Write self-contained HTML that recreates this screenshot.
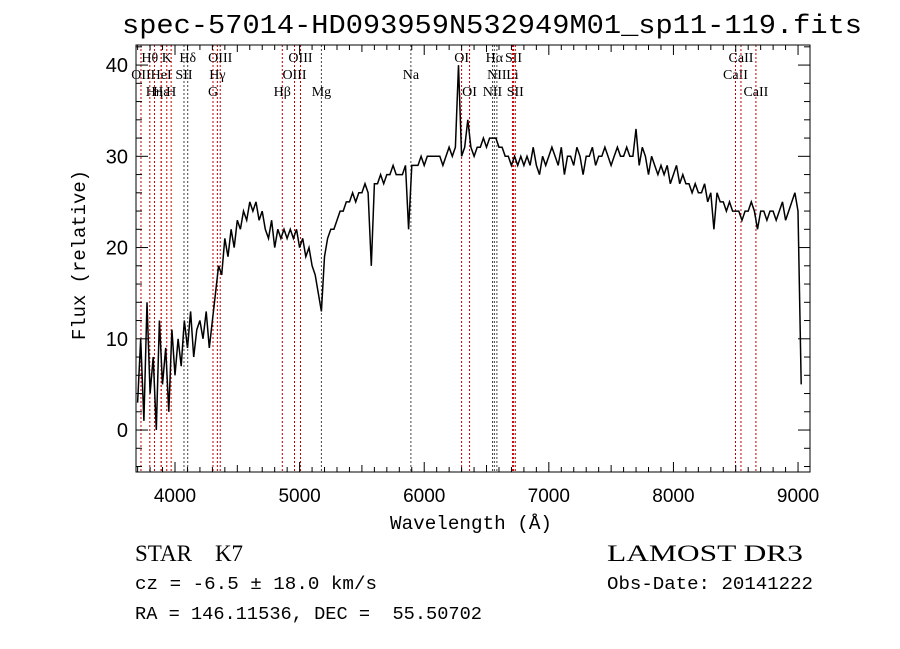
<!DOCTYPE html>
<html><head><meta charset="utf-8"><style>
body{margin:0;background:#fff;}
svg{display:block;}
</style></head><body>
<svg id="chart" width="900" height="649" viewBox="0 0 900 649" xmlns="http://www.w3.org/2000/svg">
<rect width="900" height="649" fill="#fff"/>
<text x="122" y="33" font-family="Liberation Mono, monospace" font-size="27" textLength="740" lengthAdjust="spacingAndGlyphs">spec-57014-HD093959N532949M01_sp11-119.fits</text>
<g id="lines"></g>
<g id="spec"></g>
<g id="axes"></g>
<text x="390" y="529" font-family="Liberation Mono, monospace" font-size="19" textLength="162" lengthAdjust="spacingAndGlyphs">Wavelength (Å)</text>
<text transform="translate(85,340) rotate(-90)" font-family="Liberation Mono, monospace" font-size="19" textLength="170" lengthAdjust="spacingAndGlyphs">Flux (relative)</text>
<text x="135" y="561" font-family="Liberation Serif, serif" font-size="23" xml:space="preserve">STAR    K7</text>
<text x="607" y="561" font-family="Liberation Serif, serif" font-size="23" textLength="196" lengthAdjust="spacingAndGlyphs">LAMOST DR3</text>
<text x="135" y="589" font-family="Liberation Mono, monospace" font-size="18" textLength="242" lengthAdjust="spacingAndGlyphs">cz = -6.5 ± 18.0 km/s</text>
<text x="607" y="589" font-family="Liberation Mono, monospace" font-size="18" textLength="206" lengthAdjust="spacingAndGlyphs">Obs-Date: 20141222</text>
<text x="135" y="619" font-family="Liberation Mono, monospace" font-size="18" xml:space="preserve" textLength="347" lengthAdjust="spacingAndGlyphs">RA = 146.11536, DEC =  55.50702</text>
</svg>
<script>
const wlStart = 3700;
const wlStep = 25;
const flux = [3,10,1,14,4,8,0,12,5,9,2,11,6,
10,7,12,9,13,8,11,12,10,13,9,12,
15,18,17,21,19,22,20,23,22,24,23,25,
24,25,23,24,22,21,23,20,22,21,22,21,
22,21,22,20,21,19,20,18,17,15,13,19,
21,22,22,23,24,24,25,25,26,25,26,26,
27,26,18,27,27,28,27,28,28,29,28,28,
28,29,22,29,29,29,30,29,30,30,30,30,
30,29,30,31,30,31,40,30,31,34,31,30,
31,31,32,31,32,32,32,31,31,30,30,29,
30,29,30,29,30,29,31,29,28,30,29,30,
31,30,29,31,28,30,30,29,31,30,28,30,
30,31,29,30,30,31,30,29,30,31,30,30,
31,30,30,33,29,31,30,28,30,29,28,29,
28,29,27,28,29,27,28,27,27,26,27,26,
26,27,25,26,22,26,25,25,24,25,24,24,
24,23,24,24,25,24,22,24,24,23,24,24,
23,24,25,23,24,25,26,24,5];
const xTicks = [4000,5000,6000,7000,8000,9000];
const yTicks = [0,10,20,30,40];
const lineNames = ["OII","Hθ","Hη","HeI","Hε","K","H","SII","Hδ","G","Hγ","OIII","Hβ","OIII","OIII","Mg","Na","OI","OI","NII","Hα","NII","Li","SII","SII","CaII","CaII","CaII"];
const lineWl = [3727,3798,3835,3889,3889,3934,3969,4072,4102,4305,4340,4363,4861,4959,5007,5175,5893,6300,6364,6548,6563,6583,6708,6717,6731,8498,8542,8662];
const lineRow = [1,0,2,1,2,0,2,1,0,2,1,0,2,1,0,2,1,0,2,2,0,1,1,0,2,1,0,2];
const lineBlack = [0,0,0,0,0,0,0,1,1,0,0,0,0,0,0,1,1,0,0,1,1,1,0,0,0,0,0,0];

const L=136,R=810,T=45,B=472;
const X0=3687,X1=9096,Y0=-4.6,Y1=42.2;
const xs=w=>L+(w-X0)/(X1-X0)*(R-L);
const ys=f=>B-(f-Y0)/(Y1-Y0)*(B-T);
const NS="http://www.w3.org/2000/svg";
function mk(tag,attrs,parent){const e=document.createElementNS(NS,tag);for(const k in attrs)e.setAttribute(k,attrs[k]);parent.appendChild(e);return e;}

const gl=document.getElementById('lines');
const rowY=[62,79,96];
lineWl.forEach((w,i)=>{
  const x=xs(w);
  const ln=mk('line',{x1:x,x2:x,y1:T,y2:B,stroke:lineBlack[i]?'#444':'#c00000','stroke-width':1,'stroke-dasharray':'2,2'},gl);
  
  
  const t=mk('text',{x:x,y:rowY[lineRow[i]],'font-family':'Liberation Serif, serif','font-size':14,'text-anchor':'middle'},gl);
  t.textContent=lineNames[i];
  
  
});

const gs=document.getElementById('spec');
const pts=flux.map((f,i)=>xs(wlStart+i*wlStep).toFixed(1)+','+ys(f).toFixed(1)).join(' ');
const pl=mk('polyline',{points:pts,fill:'none',stroke:'#000','stroke-width':1.5},gs);



const ga=document.getElementById('axes');
const fr=mk('rect',{x:L,y:T,width:R-L,height:B-T,fill:'none',stroke:'#000','stroke-width':1},ga);


for(let w=3700;w<=X1;w+=100){
  const x=xs(w);const len=(w%1000===0)?10:(w%500===0?7:5);
  mk('line',{x1:x,x2:x,y1:B,y2:B-len,stroke:'#000'},ga);
  mk('line',{x1:x,x2:x,y1:T,y2:T+len,stroke:'#000'},ga);
}
xTicks.forEach(w=>{
  const t=mk('text',{x:xs(w),y:B+30,'font-family':'Liberation Sans, sans-serif','font-size':19,'text-anchor':'middle'},ga);
  t.textContent=w;
  
  
});
for(let f=-4;f<=42;f+=2){
  const y=ys(f);const len=(f%10===0)?12:6;
  mk('line',{x1:L,x2:L+len,y1:y,y2:y,stroke:'#000'},ga);
  mk('line',{x1:R,x2:R-len,y1:y,y2:y,stroke:'#000'},ga);
}
yTicks.forEach(f=>{
  const t=mk('text',{x:L-8,y:ys(f)+7,'font-family':'Liberation Sans, sans-serif','font-size':20,'text-anchor':'end'},ga);
  t.textContent=f;
  
  
});
</script>
</body></html>
